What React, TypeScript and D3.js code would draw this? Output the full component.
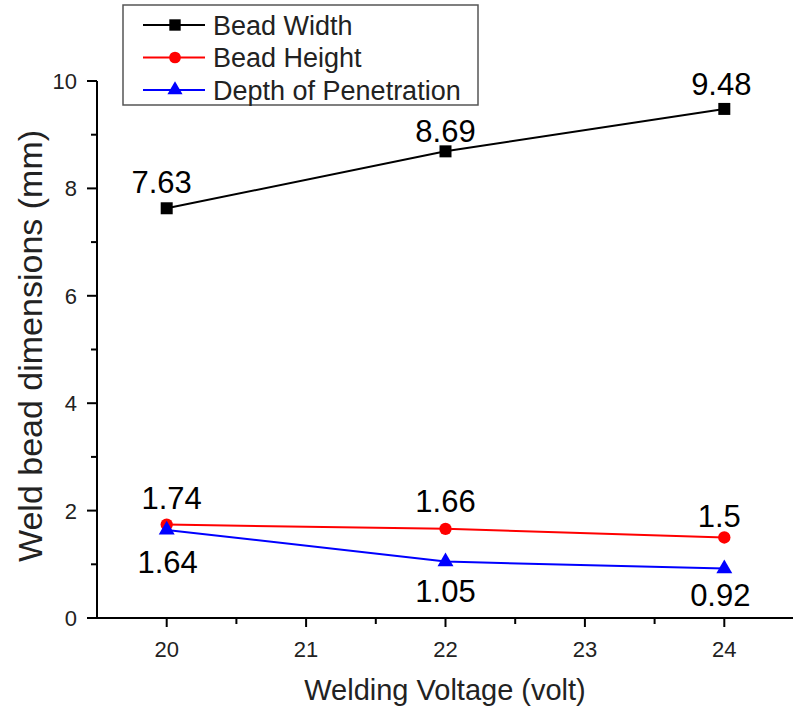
import React from 'react';
import { scaleLinear, line, range, symbol, symbolSquare, symbolCircle, symbolTriangle } from 'd3';

const voltages = [20, 22, 24];
const beadWidth = [7.63, 8.69, 9.48];
const beadHeight = [1.74, 1.66, 1.5];
const depthOfPenetration = [1.64, 1.05, 0.92];
const seriesNames = ['Bead Width', 'Bead Height', 'Depth of Penetration'];
const xTicks = [20, 21, 22, 23, 24];
const yTicks = [0, 2, 4, 6, 8, 10];

const W = 793;
const H = 710;
const FONT = '"Liberation Sans", Arial, sans-serif';

// label nudges [dx, dy] relative to each point
const nudges = [
  [[-5, -15], [0, -9], [-3, -14]],
  [[5, -16], [0, -17], [-5, -10]],
  [[1, 43], [0, 40], [-4, 37]],
];

const series = [
  { name: seriesNames[0], values: beadWidth, color: '#000000', shape: symbolSquare, size: 144 },
  { name: seriesNames[1], values: beadHeight, color: '#ff0000', shape: symbolCircle, size: 120 },
  { name: seriesNames[2], values: depthOfPenetration, color: '#0000ff', shape: symbolTriangle, size: 110 },
];

const App = () => {
  const x = scaleLinear().domain([19.5, 24.5]).range([97, 794]);
  const y = scaleLinear().domain([0, 10]).range([618, 81]);

  const xMinor = range(20.5, 24.5, 1);
  const yMinor = range(1, 10, 2);

  return (
    <svg width={W} height={H} style={{ position: 'absolute', left: 0, top: 0, background: '#fff' }}>
      {/* axes */}
      <line x1={x(19.5)} x2={W} y1={y(0)} y2={y(0)} stroke="#000" strokeWidth={2} />
      <line x1={x(19.5)} x2={x(19.5)} y1={y(0) + 1} y2={y(10)} stroke="#000" strokeWidth={2} />

      {yTicks.map((t) => (
        <g key={'y' + t}>
          <line x1={x(19.5) - 10} x2={x(19.5)} y1={y(t)} y2={y(t)} stroke="#000" strokeWidth={2} />
          <text x={x(19.5) - 20} y={y(t)} dy="0.36em" textAnchor="end" fontFamily={FONT} fontSize={22} fill="#222">
            {t}
          </text>
        </g>
      ))}
      {yMinor.map((t) => (
        <line key={'ym' + t} x1={x(19.5) - 6} x2={x(19.5)} y1={y(t)} y2={y(t)} stroke="#000" strokeWidth={2} />
      ))}

      {xTicks.map((t) => (
        <g key={'x' + t}>
          <line x1={x(t)} x2={x(t)} y1={y(0)} y2={y(0) + 9} stroke="#000" strokeWidth={2} />
          <text x={x(t)} y={657} textAnchor="middle" fontFamily={FONT} fontSize={22} fill="#222">
            {t}
          </text>
        </g>
      ))}
      {xMinor.map((t) => (
        <line key={'xm' + t} x1={x(t)} x2={x(t)} y1={y(0)} y2={y(0) + 6} stroke="#000" strokeWidth={2} />
      ))}

      <text x={445} y={700} textAnchor="middle" fontFamily={FONT} fontSize={29} fill="#222">
        Welding Voltage (volt)
      </text>
      <text
        transform="translate(42,346) rotate(-90)"
        textAnchor="middle"
        fontFamily={FONT}
        fontSize={34}
        fill="#222"
      >
        Weld bead dimensions (mm)
      </text>

      {/* series */}
      {series.map((s, si) => {
        const pts = voltages.map((v, i) => [x(v), y(s.values[i])] as [number, number]);
        const path = line()(pts) || '';
        const marker = symbol(s.shape, s.size)() || '';
        return (
          <g key={s.name}>
            <path d={path} fill="none" stroke={s.color} strokeWidth={2} />
            {pts.map((p, i) => (
              <path key={i} d={marker} transform={`translate(${p[0]},${p[1]})`} fill={s.color} />
            ))}
            {pts.map((p, i) => (
              <text
                key={'l' + i}
                x={p[0] + nudges[si][i][0]}
                y={p[1] + nudges[si][i][1]}
                textAnchor="middle"
                fontFamily={FONT}
                fontSize={31}
                fill="#000"
              >
                {s.values[i]}
              </text>
            ))}
          </g>
        );
      })}

      {/* legend */}
      <rect x={123} y={5} width={355} height={100} fill="#fff" stroke="#555" strokeWidth={1.5} />
      {series.map((s, i) => {
        const cy = 25 + i * 32.5;
        return (
          <g key={'lg' + s.name}>
            <line x1={143} x2={205} y1={cy} y2={cy} stroke={s.color} strokeWidth={2} />
            <path d={symbol(s.shape, s.size * 0.9)() || ''} transform={`translate(175,${cy})`} fill={s.color} />
            <text x={213} y={cy} dy="0.36em" fontFamily={FONT} fontSize={27} fill="#222">
              {s.name}
            </text>
          </g>
        );
      })}
    </svg>
  );
};

export default App;
